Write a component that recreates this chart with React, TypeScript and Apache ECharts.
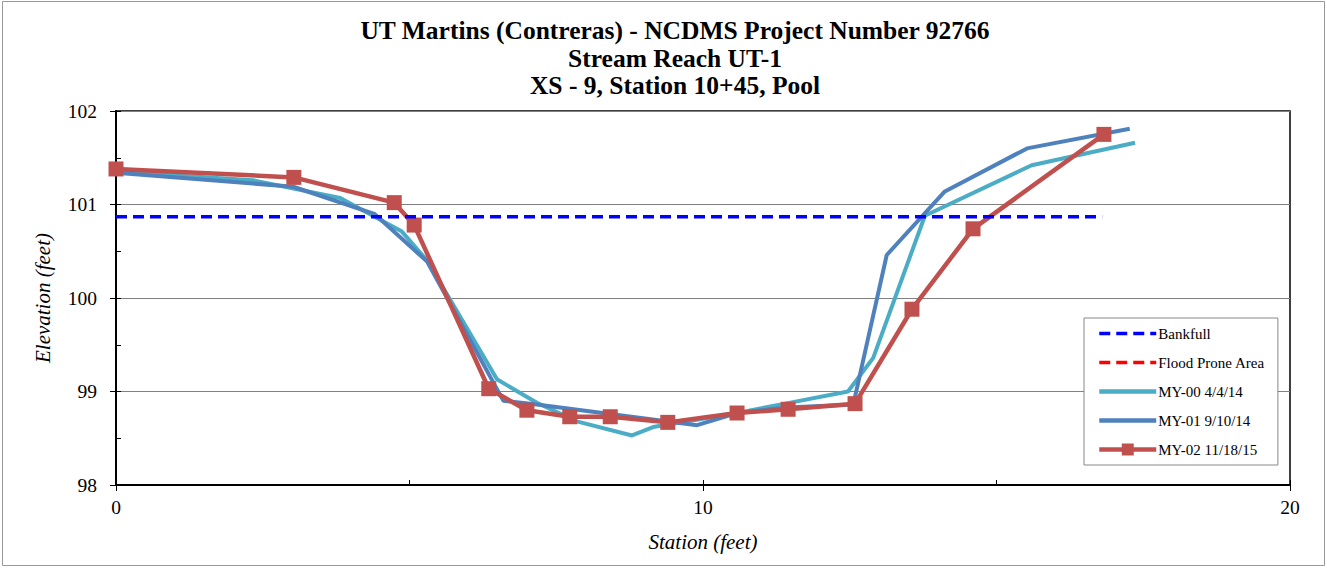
import React, { useEffect, useRef } from "react";
import * as echarts from "echarts";

const titleLines = [
  "UT Martins (Contreras) - NCDMS Project Number 92766",
  "Stream Reach UT-1",
  "XS - 9, Station 10+45, Pool",
];

const bankfullX = [0, 16.8];
const bankfullY = [100.87, 100.87];

const my00X = [0, 2.33, 3.82, 4.87, 5.3, 6.49, 7.17, 7.85, 8.79, 9.15, 10.58, 11.4, 12.47, 12.9, 13.78, 15.6, 17.36];
const my00Y = [101.35, 101.26, 101.07, 100.71, 100.4, 99.13, 98.88, 98.68, 98.53, 98.62, 98.77, 98.87, 99.0, 99.36, 100.88, 101.42, 101.66];

const my01X = [0, 3.02, 4.4, 5.3, 6.6, 7.17, 9.9, 10.58, 11.43, 12.56, 13.13, 14.12, 15.52, 17.27];
const my01Y = [101.34, 101.19, 100.9, 100.39, 98.9, 98.86, 98.64, 98.77, 98.83, 98.86, 100.46, 101.14, 101.6, 101.81];

const my02X = [0, 3.03, 4.74, 5.08, 6.35, 7.0, 7.73, 8.42, 9.4, 10.58, 11.45, 12.59, 13.56, 14.6, 16.83];
const my02Y = [101.38, 101.29, 101.02, 100.78, 99.03, 98.8, 98.73, 98.73, 98.67, 98.77, 98.81, 98.87, 99.88, 100.74, 101.75];

const zip = (xs: number[], ys: number[]) => xs.map((x, i) => [x, ys[i]]);

const FONT = "'Liberation Serif', 'Times New Roman', serif";

export default function App() {
  const ref = useRef<HTMLDivElement>(null);
  useEffect(() => {
    if (!ref.current) return;
    const chart = echarts.init(ref.current, null, { renderer: "svg" });
    const noSym = { opacity: 0 };
    chart.setOption({
      animation: false,
      backgroundColor: "#fff",
      textStyle: { fontFamily: FONT },
      title: {
        text: titleLines.join("\n"),
        left: 670,
        top: 12,
        textAlign: "center",
        textStyle: {
          fontFamily: FONT,
          fontWeight: "bold",
          fontSize: 25.5,
          lineHeight: 27.5,
          color: "#000",
        },
      },
      graphic: [
        {
          type: "rect",
          shape: { x: 2.5, y: 1.5, width: 1322, height: 564 },
          style: { fill: "none", stroke: "#999", lineWidth: 1 },
          silent: true,
        },
      ],
      legend: {
        orient: "vertical",
        left: 1084,
        top: 318,
        padding: [8, 13, 8, 13],
        itemGap: 14,
        itemWidth: 57,
        itemHeight: 15,
        backgroundColor: "#fff",
        borderColor: "#888",
        borderWidth: 1,
        textStyle: { fontFamily: FONT, fontSize: 15, color: "#000", padding: [0, 0, 0, -3] },
        data: [
          { name: "Bankfull", itemStyle: noSym, lineStyle: { width: 3.5 } },
          { name: "Flood Prone Area", itemStyle: noSym, lineStyle: { width: 3.5 } },
          { name: "MY-00 4/4/14", itemStyle: noSym, lineStyle: { width: 4.5 } },
          { name: "MY-01 9/10/14", itemStyle: noSym, lineStyle: { width: 4.5 } },
          { name: "MY-02 11/18/15", lineStyle: { width: 4.5 } },
        ],
      },
      grid: {
        left: 116,
        right: 37,
        top: 111,
        bottom: 83,
        show: true,
        borderColor: "#000",
        borderWidth: 1.5,
        backgroundColor: "transparent",
      },
      xAxis: [
        {
          type: "value",
          min: 0,
          max: 20,
          interval: 10,
          name: "Station (feet)",
          nameLocation: "middle",
          nameGap: 46,
          nameTextStyle: { fontFamily: FONT, fontStyle: "italic", fontSize: 21, color: "#000" },
          axisLine: { show: true, onZero: false, lineStyle: { color: "#000", width: 2 } },
          axisTick: { show: true, inside: false, length: 6, lineStyle: { color: "#000" } },
          axisLabel: { fontFamily: FONT, fontSize: 19.5, color: "#000", margin: 12 },
          splitLine: { show: false },
        },
        {
          type: "value",
          position: "bottom",
          min: 0,
          max: 20,
          interval: 5,
          axisLine: { show: false },
          axisTick: { show: true, inside: true, length: 5, lineStyle: { color: "#000" } },
          axisLabel: { show: false },
          splitLine: { show: false },
        },
      ],
      yAxis: [
        {
          type: "value",
          min: 98,
          max: 102,
          interval: 1,
          name: "Elevation (feet)",
          nameLocation: "middle",
          nameGap: 63,
          nameTextStyle: { fontFamily: FONT, fontStyle: "italic", fontSize: 21, color: "#000" },
          axisLine: { show: true, onZero: false, lineStyle: { color: "#000", width: 2 } },
          axisTick: { show: true, inside: false, length: 6, lineStyle: { color: "#000" } },
          axisLabel: { fontFamily: FONT, fontSize: 19.5, color: "#000", margin: 19 },
          splitLine: { show: true, lineStyle: { color: "#808080", width: 1 } },
        },
        {
          type: "value",
          position: "left",
          min: 98,
          max: 102,
          interval: 0.5,
          axisLine: { show: false },
          axisTick: { show: true, inside: true, length: 5, lineStyle: { color: "#000" } },
          axisLabel: { show: false },
          splitLine: { show: false },
        },
      ],
      series: [
        {
          name: "Bankfull",
          type: "line",
          data: zip(bankfullX, bankfullY),
          symbol: "none",
          color: "#0000FF",
          lineStyle: { color: "#0000FF", width: 3.5, type: [11, 6] },
          z: 5,
        },
        {
          name: "Flood Prone Area",
          type: "line",
          data: [],
          symbol: "none",
          color: "#FF0000",
          lineStyle: { color: "#FF0000", width: 3.5, type: [11, 6] },
        },
        {
          name: "MY-00 4/4/14",
          type: "line",
          data: zip(my00X, my00Y),
          symbol: "none",
          color: "#4BACC6",
          lineStyle: { color: "#4BACC6", width: 4 },
          z: 2,
        },
        {
          name: "MY-01 9/10/14",
          type: "line",
          data: zip(my01X, my01Y),
          symbol: "none",
          color: "#4F81BD",
          lineStyle: { color: "#4F81BD", width: 4 },
          z: 3,
        },
        {
          name: "MY-02 11/18/15",
          type: "line",
          data: zip(my02X, my02Y),
          symbol: "rect",
          symbolSize: 15,
          color: "#C0504D",
          itemStyle: { color: "#C0504D" },
          lineStyle: { color: "#C0504D", width: 4.5 },
          z: 4,
        },
      ],
    });
    return () => chart.dispose();
  }, []);
  return (
    <div
      ref={ref}
      style={{ position: "fixed", left: 0, top: 0, width: 1327, height: 568 }}
    />
  );
}
